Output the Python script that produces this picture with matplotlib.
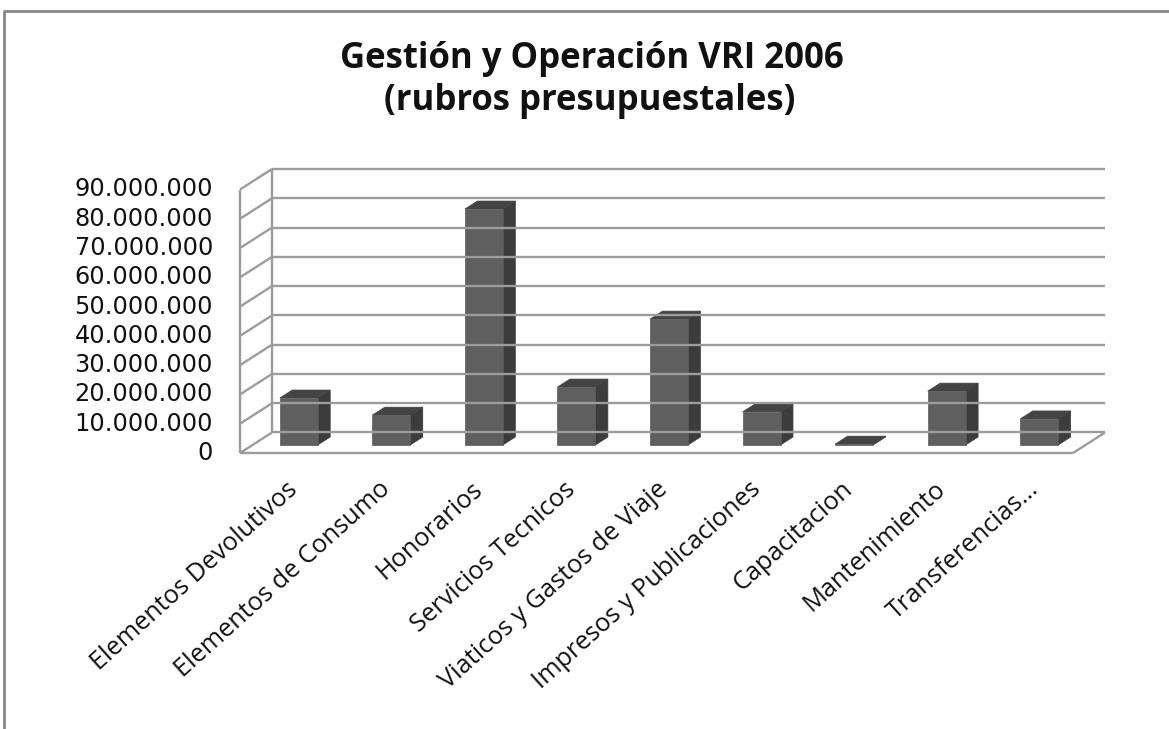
import matplotlib
matplotlib.use("Agg")
import matplotlib.pyplot as plt
from matplotlib.patches import Polygon
from matplotlib.lines import Line2D

categorias = ["Elementos Devolutivos", "Elementos de Consumo", "Honorarios",
              "Servicios Tecnicos", "Viaticos y Gastos de Viaje",
              "Impresos y Publicaciones", "Capacitacion", "Mantenimiento",
              "Transferencias…"]
valores = [16.05e6, 10.2e6, 80.6e6, 19.8e6, 43.0e6, 11.3e6, 0.3e6, 18.4e6, 8.9e6]
ticks = list(range(0, 90000001, 10000000))
titulo = ["Gestión y Operación VRI 2006", "(rubros presupuestales)"]

W, H = 1169, 729
fig = plt.figure(figsize=(W / 100, H / 100), dpi=100)

# front plane of the 3d box, in pixels
x_left, x_right = 240, 1073
y_bot, y_top = 453, 189.5
ax = fig.add_axes([x_left / W, 1 - y_bot / H, (x_right - x_left) / W, (y_bot - y_top) / H])
n = len(categorias)
vmax = ticks[-1]
ax.set_xlim(0, n)
ax.set_ylim(0, vmax)
ax.axis("off")

# depth offset of the box (32 px right, 20.5 px up) in data units
DX = 32 / ((x_right - x_left) / n)
DY = 20.5 / ((y_bot - y_top) / vmax)


def P(x, v, z):
    return (x + z * DX, v + z * DY)


grid = "#9c9c9c"
lw = 1.7


def seg(a, b, **kw):
    ax.add_line(Line2D([a[0], b[0]], [a[1], b[1]], color=grid, lw=lw,
                       clip_on=False, solid_capstyle="butt", **kw))


# back wall gridlines and side wall
for t in ticks:
    seg(P(0, t, 1), P(n, t, 1))
    seg(P(0, t, 0), P(0, t, 1))
seg(P(0, 0, 0), P(0, vmax, 0))
seg(P(0, 0, 1), P(0, vmax, 1))
# floor
seg(P(0, 0, 0), P(n, 0, 0))
seg(P(n, 0, 0), P(n, 0, 1))

# bars
w = 0.41
z0, z1 = 0.39, 0.78
for i, v in enumerate(valores):
    x0, x1 = i + 0.5 - w / 2, i + 0.5 + w / 2
    front = [P(x0, 0, z0), P(x1, 0, z0), P(x1, v, z0), P(x0, v, z0)]
    side = [P(x1, 0, z0), P(x1, 0, z1), P(x1, v, z1), P(x1, v, z0)]
    top = [P(x0, v, z0), P(x1, v, z0), P(x1, v, z1), P(x0, v, z1)]
    ax.add_patch(Polygon(side, closed=True, fc="#3c3c3c", ec="#3c3c3c", lw=0.5, clip_on=False))
    ax.add_patch(Polygon(top, closed=True, fc="#444444", ec="#444444", lw=0.5, clip_on=False))
    ax.add_patch(Polygon(front, closed=True, fc="#5f5f5f", ec="#5a5a5a", lw=0.5, clip_on=False))

# y tick labels
for t in ticks:
    lab = f"{t:,}".replace(",", ".")
    ax.annotate(lab, xy=(0, t), xytext=(-27 * 0.72, 0), textcoords="offset points",
                ha="right", va="center", fontsize=17.3, family="DejaVu Sans",
                color="#111111", annotation_clip=False)

# category labels
for i, c in enumerate(categorias):
    ax.annotate(c, xy=(i + 0.5, 0), xytext=(8 * 0.72, -33 * 0.72), textcoords="offset points",
                ha="right", va="center", rotation=42, rotation_mode="anchor",
                fontsize=18.3, family="Open Sans", color="#111111", annotation_clip=False)

# title
fig.text(592 / W, 1 - 68 / H, titulo[0], ha="center", va="baseline",
         fontsize=25, fontweight="bold", family="Open Sans", color="#111111")
fig.text(590 / W, 1 - 110 / H, titulo[1], ha="center", va="baseline",
         fontsize=25, fontweight="bold", family="Open Sans", color="#111111")

# chart area border
fig.add_artist(Line2D([4 / W, 4 / W, 1.0], [0.0, 1 - 11 / H, 1 - 11 / H],
                      transform=fig.transFigure, color="#888888", lw=2))

fig.savefig("out.png", dpi=100)
